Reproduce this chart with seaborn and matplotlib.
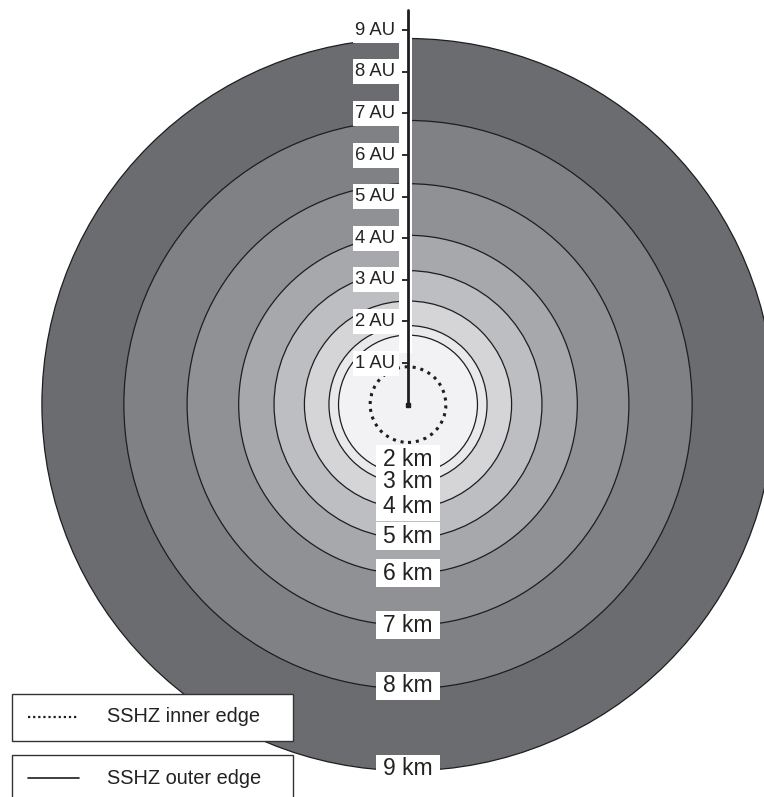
import matplotlib
matplotlib.use("Agg")
import matplotlib.pyplot as plt
from matplotlib.patches import Circle, Rectangle
import seaborn as sns

# ring radii in AU, outermost first, with the fill of the zone inside each ring
ring_km = ["9 km", "8 km", "7 km", "6 km", "5 km", "4 km", "3 km", "2 km"]
ring_radius = [8.80, 6.83, 5.31, 4.07, 3.22, 2.49, 1.90, 1.67]
ring_colors = ["#6b6c70", "#808185", "#909195", "#a7a8ab",
               "#bdbec1", "#d5d5d7", "#e9e9eb", "#f2f2f4"]
inner_edge_radius = 0.91

# where the km labels sit (AU below the star)
km_label_y = [-8.75, -6.76, -5.31, -4.05, -3.17, -2.46, -1.86, -1.31]

au_ticks = [1, 2, 3, 4, 5, 6, 7, 8, 9]
au_labels = ["1 AU", "2 AU", "3 AU", "4 AU", "5 AU", "6 AU", "7 AU", "8 AU", "9 AU"]
axis_top = 9.49

legend_labels = ["SSHZ inner edge", "SSHZ outer edge"]

sns.set_style("white")
plt.rcParams["font.family"] = ["Liberation Sans", "DejaVu Sans"]

W, H = 764, 797
px = 41.6          # pixels per AU
cx, cy = 408, 404.6
fig = plt.figure(figsize=(W / 100, H / 100), dpi=100)
ax = fig.add_axes([0, 0, 1, 1])
ax.set_xlim(-cx / px, (W - cx) / px)
ax.set_ylim((cy - H) / px, cy / px)
ax.axis("off")

pal = sns.color_palette(ring_colors)
for r, c in zip(ring_radius, pal):
    ax.add_patch(Circle((0, 0), r, facecolor=c, edgecolor="#1e1e20", lw=0.9, zorder=1))
ax.add_patch(Circle((0, 0), inner_edge_radius, fill=False, edgecolor="#1e1e20",
                    lw=2.2, ls=(0, (1, 1.6)), zorder=2))

# white strip behind the AU axis
ax.add_patch(Rectangle((-9 / px, 1.25), 13 / px, axis_top - 1.25,
                       facecolor="white", edgecolor="none", zorder=2))

# AU axis
sns.lineplot(x=[0, 0], y=[0, axis_top], estimator=None, sort=False,
             color="#1e1e20", lw=2.0, ax=ax, zorder=4)
ax.plot(0, 0, marker="s", ms=3, color="#1e1e20", zorder=4)
ax.hlines(au_ticks, -6.5 / px, 0, color="#1e1e20", lw=1.3, zorder=4)
for t, lab in zip(au_ticks, au_labels):
    ax.add_patch(Rectangle((-55 / px, t - 12.5 / px), 46 / px, 25 / px,
                           facecolor="white", edgecolor="none", zorder=3))
    ax.text(-13 / px, t, lab, ha="right", va="center", fontsize=13.3,
            color="#222222", zorder=5)

# km labels
for y, lab in zip(km_label_y, ring_km):
    ax.add_patch(Rectangle((-32 / px, y - 14 / px), 64 / px, 28 / px,
                           facecolor="white", edgecolor="none", zorder=4))
for y, lab in zip(km_label_y, ring_km):
    ax.text(0, y, lab, ha="center", va="center", fontsize=16.5,
            color="#222222", zorder=5)

# legend boxes
styles = [(0, (1, 1.3)), "-"]
widths = [1.6, 1.2]
tops = [694, 755]
for top, lab, ls, lw in zip(tops, legend_labels, styles, widths):
    ax.add_patch(Rectangle((12 / W, 1 - (top + 47) / H), 281 / W, 47 / H,
                           transform=ax.transAxes, facecolor="white",
                           edgecolor="#333333", lw=1.0, zorder=6))
    ym = 1 - (top + 23) / H
    ax.plot([28 / W, 79 / W], [ym, ym], transform=ax.transAxes, color="#1e1e20",
            ls=ls, lw=lw, zorder=7)
    ax.text(107 / W, ym, lab, transform=ax.transAxes, ha="left", va="center",
            fontsize=14.4, color="#222222", zorder=7)

fig.savefig("out.png", dpi=100)
